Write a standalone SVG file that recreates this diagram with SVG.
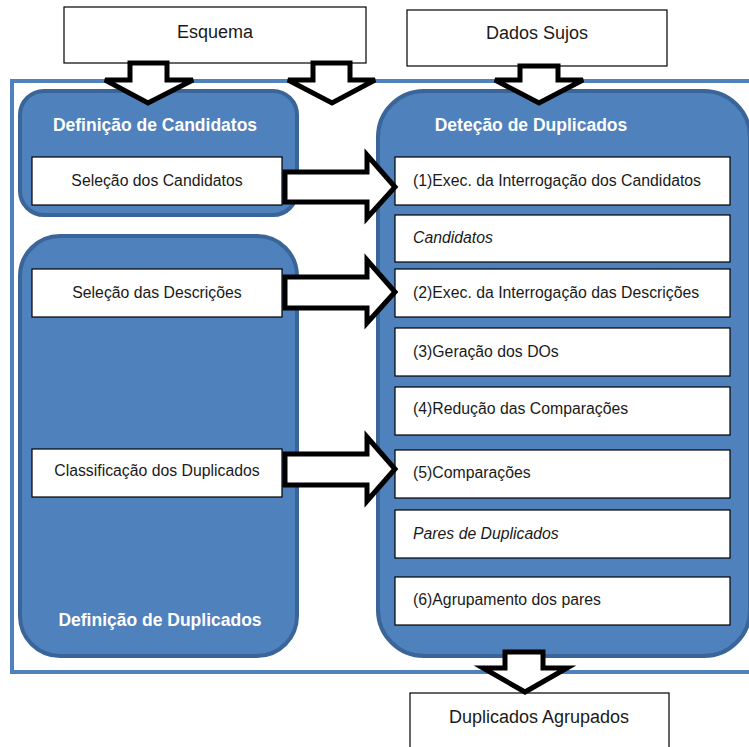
<svg xmlns="http://www.w3.org/2000/svg" width="749" height="747" viewBox="0 0 749 747">
  <style>
    .box { fill: #ffffff; stroke: #000000; stroke-width: 1.2; }
    .panel { fill: #4F81BD; stroke: #3A6599; stroke-width: 4; }
    .frame { fill: #ffffff; stroke: #4F81BD; stroke-width: 4; }
    .arrow { fill: #ffffff; stroke: #000000; stroke-width: 5; stroke-linejoin: miter; }
    .t { font-family: "Liberation Sans", Arial, sans-serif; font-size: 15.8px; fill: #1a1a1a; }
    .tc { text-anchor: middle; }
    .big { font-size: 18px; }
    .it { font-style: italic; }
    .title { font-family: "Liberation Sans", Arial, sans-serif; font-size: 17.5px; font-weight: bold; fill: #ffffff; text-anchor: middle; }
  </style>

  <!-- outer frame -->
  <rect class="frame" x="12" y="81" width="760" height="591"/>

  <!-- inputs -->
  <g id="esquema">
    <rect class="box" x="64" y="7" width="302" height="56"/>
    <text class="t tc big" x="215" y="38">Esquema</text>
  </g>
  <g id="dados-sujos">
    <rect class="box" x="407" y="10" width="260" height="56"/>
    <text class="t tc big" x="537" y="39">Dados Sujos</text>
  </g>

  <!-- Definição de Candidatos -->
  <g id="definicao-candidatos">
    <rect class="panel" x="20" y="91" width="277" height="124" rx="24"/>
    <text class="title" x="155" y="131">Definição de Candidatos</text>
  </g>
  <g id="selecao-candidatos">
    <rect class="box" x="32" y="157" width="250" height="48"/>
    <text class="t tc" x="157" y="186">Seleção dos Candidatos</text>
  </g>

  <!-- Definição de Duplicados -->
  <g id="definicao-duplicados">
    <rect class="panel" x="20" y="236" width="277" height="420" rx="40"/>
    <text class="title" x="160" y="626">Definição de Duplicados</text>
  </g>
  <g id="selecao-descricoes">
    <rect class="box" x="32" y="269" width="250" height="48"/>
    <text class="t tc" x="157" y="298">Seleção das Descrições</text>
  </g>
  <g id="classificacao-duplicados">
    <rect class="box" x="32" y="449" width="250" height="48"/>
    <text class="t tc" x="157" y="476">Classificação dos Duplicados</text>
  </g>

  <!-- Deteção de Duplicados -->
  <g id="detecao-duplicados">
    <rect class="panel" x="378" y="91" width="372" height="565" rx="46"/>
    <text class="title" x="531" y="131">Deteção de Duplicados</text>
  </g>
  <g id="passo-1">
    <rect class="box" x="395" y="157" width="335" height="48"/>
    <text class="t" x="413" y="186">(1)Exec. da Interrogação dos Candidatos</text>
  </g>
  <g id="candidatos">
    <rect class="box" x="395" y="215" width="335" height="47"/>
    <text class="t it" x="413" y="243">Candidatos</text>
  </g>
  <g id="passo-2">
    <rect class="box" x="395" y="269" width="335" height="48"/>
    <text class="t" x="413" y="298">(2)Exec. da Interrogação das Descrições</text>
  </g>
  <g id="passo-3">
    <rect class="box" x="395" y="328" width="335" height="48"/>
    <text class="t" x="413" y="357">(3)Geração dos DOs</text>
  </g>
  <g id="passo-4">
    <rect class="box" x="395" y="387" width="335" height="48"/>
    <text class="t" x="413" y="414">(4)Redução das Comparações</text>
  </g>
  <g id="passo-5">
    <rect class="box" x="395" y="450" width="335" height="48"/>
    <text class="t" x="413" y="478">(5)Comparações</text>
  </g>
  <g id="pares-duplicados">
    <rect class="box" x="395" y="510" width="335" height="48"/>
    <text class="t it" x="413" y="539">Pares de Duplicados</text>
  </g>
  <g id="passo-6">
    <rect class="box" x="395" y="577" width="335" height="48"/>
    <text class="t" x="413" y="605">(6)Agrupamento dos pares</text>
  </g>

  <!-- output -->
  <g id="duplicados-agrupados">
    <rect class="box" x="410" y="693" width="259" height="70"/>
    <text class="t tc big" x="539" y="723">Duplicados Agrupados</text>
  </g>

  <!-- block arrows -->
  <g id="connectors">
    <path class="arrow" d="M130,63 H167 V80 H193 L148,103 L105,80 H130 Z"/>
    <path class="arrow" d="M313,63 H350 V80 H375 L332,103 L288,80 H313 Z"/>
    <path class="arrow" d="M520,66 H558 V80 H583 L539,103 L495,80 H520 Z"/>
    <path class="arrow" d="M505,652 H543 V668 H567 L525,692 L483,668 H505 Z"/>
    <path class="arrow" d="M285,172 H367 V155 L395,187 L367,218 V202 H285 Z"/>
    <path class="arrow" d="M285,277 H367 V260 L395,292 L367,323 V308 H285 Z"/>
    <path class="arrow" d="M285,454 H367 V437 L395,469 L367,501 V485 H285 Z"/>
  </g>
</svg>
